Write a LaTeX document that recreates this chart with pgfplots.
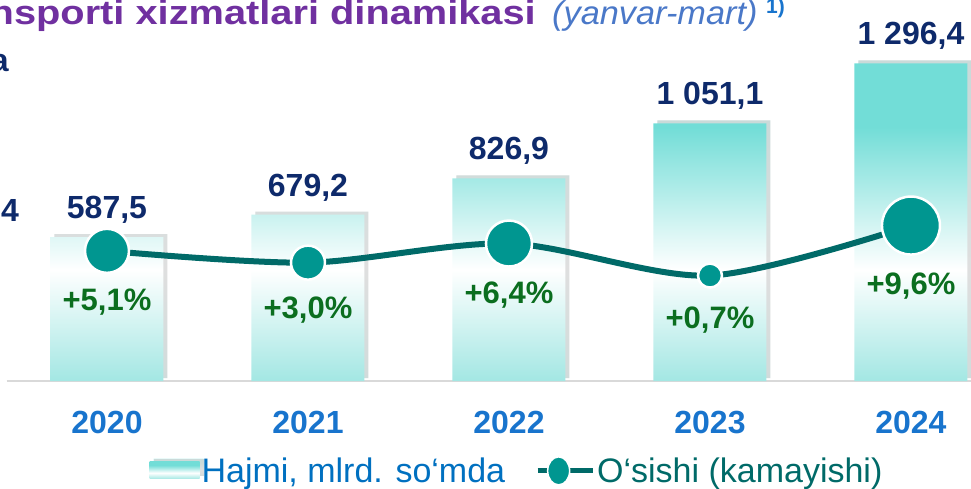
\documentclass[border=0pt]{standalone}
\usepackage{pgfplots}
\pgfplotsset{compat=1.18}
\usepackage{fontspec}
\setmainfont{Liberation Sans}
\usetikzlibrary{shadows}

\definecolor{barTop}{HTML}{72DDD7}
\definecolor{barBot}{HTML}{A3E7E3}
\definecolor{lineC}{HTML}{006A68}
\definecolor{markC}{HTML}{009690}
\definecolor{navy}{HTML}{0E2A6B}
\definecolor{pctC}{HTML}{0B6E1F}
\definecolor{yearC}{HTML}{1874CD}
\definecolor{titleC}{HTML}{7030A0}
\definecolor{subC}{HTML}{4A78C8}
\definecolor{legC}{HTML}{0070C0}

\pgfdeclareverticalshading{barshade}{100bp}{color(0bp)=(barBot); color(25bp)=(barBot); color(42.5bp)=(white); color(65bp)=(barTop); color(75bp)=(barTop); color(100bp)=(barTop)}

% volume, mlrd. so'm
\pgfplotstableread{
x vol
0 587.5
1 679.2
2 826.9
3 1051.1
4 1296.4
}\voltable

% growth %, marker radius (pt), label offset below marker (pt)
\pgfplotstableread{
x g r dy
0 5.1 22 51
1 3.0 17 47
2 6.4 23 52
3 0.7 12 45
4 9.6 29 61
}\growtable

\begin{document}
\begin{tikzpicture}
\useasboundingbox (0,0) rectangle (971pt,488pt);

% title, cropped on the left like the reference
\node[anchor=base east, font=\fontsize{34}{38}\selectfont\bfseries\addfontfeature{FakeStretch=1.17}, text=titleC, inner sep=0pt]
  at (536pt,463pt) {Avtomobil transporti xizmatlari dinamikasi};
\node[anchor=base west, font=\fontsize{33}{38}\selectfont\itshape\addfontfeature{FakeStretch=1.04}, text=subC, inner sep=0pt]
  at (552pt,463pt) {(yanvar-mart)};
\node[anchor=base west, font=\fontsize{21}{24}\selectfont\bfseries, text=yearC, inner sep=0pt]
  at (766pt,474pt) {1)};
\node[anchor=base east, font=\fontsize{32}{38}\selectfont\bfseries, text=navy, inner sep=0pt]
  at (9pt,416pt) {mlrd. so‘mda};
\node[anchor=base east, font=\fontsize{32}{38}\selectfont\bfseries, text=navy, inner sep=0pt]
  at (19pt,266pt) {4};

\begin{axis}[
  at={(6.5pt,107pt)}, anchor=south west,
  scale only axis, width=1005pt, height=343pt,
  xmin=-0.5, xmax=4.5, ymin=0, ymax=1400,
  axis y line=none, axis x line*=bottom,
  x axis line style={draw=black!15, line width=1.5pt, -},
  xtick=data, xticklabels={2020,2021,2022,2023,2024},
  xtick style={draw=none}, major tick length=0pt,
  xticklabel style={font=\fontsize{32}{36}\selectfont\bfseries, text=yearC, anchor=base, yshift=-52pt},
  clip=false,
  legend columns=2,
  legend cell align=left,
  legend style={at={(axis description cs:0.508,-0.262)}, anchor=center,
    draw=none, fill=none, font=\fontsize{34}{38}\selectfont,
    /tikz/every even column/.append style={column sep=28pt}},
]
\addplot[ybar, bar width=113pt, draw=none, shade, shading=barshade,
  drop shadow={shadow xshift=4pt, shadow yshift=3pt, fill=black, opacity=0.15},
  nodes near coords,
  point meta=y,
  nodes near coords style={anchor=base, yshift=18.5pt, text=navy,
    font=\fontsize{32}{36}\selectfont\bfseries,
    /pgf/number format/.cd, use comma, fixed, fixed zerofill, precision=1,
    1000 sep={~}, assume math mode=true},
  legend image code/.code={\path[shade, shading=barshade] (0pt,-8pt) rectangle (50pt,9pt);},
] table[x=x, y=vol] {\voltable};
\addlegendentry{\textcolor{legC}{Hajmi, mlrd. so‘mda}}
\addlegendimage{legend image code/.code={
  \draw[line width=5pt, lineC] (0pt,0pt) -- (55pt,0pt);
  \draw[fill=markC, draw=white, line width=1.5pt] (21pt,0pt) ellipse (11pt and 14pt);}}
\addlegendentry{\textcolor{lineC}{O‘sishi (kamayishi)}}
\end{axis}

\begin{axis}[
  at={(6.5pt,107pt)}, anchor=south west,
  scale only axis, width=1005pt, height=343pt,
  xmin=-0.5, xmax=4.5, ymin=-18.06, ymax=42.97,
  hide axis, clip=false,
]
\addplot[smooth, line width=6pt, lineC, mark=none] table[x=x, y=g] {\growtable};
% markers, sized per point
\addplot[scatter, only marks, mark=*,
  visualization depends on={\thisrow{r}\as\msz},
  scatter/@pre marker code/.code={%
    \scope[draw=white, fill=markC, line width=2.5pt]%
    \pgfmathsetlength\pgfplotmarksize{\msz pt}},
  scatter/@post marker code/.code={\endscope},
] table[x=x, y=g] {\growtable};
% growth labels
\addplot[draw=none, mark=none,
  visualization depends on={\thisrow{dy}\as\dy},
  point meta=y,
  nodes near coords={\pgfmathprintnumber[showpos, use comma, fixed, fixed zerofill, precision=1, assume math mode=true]{\pgfplotspointmeta}\%},
  nodes near coords style={anchor=center, yshift=-\dy pt, text=pctC,
    font=\fontsize{31}{34}\selectfont\bfseries},
] table[x=x, y=g] {\growtable};
\end{axis}
\end{tikzpicture}
\end{document}
